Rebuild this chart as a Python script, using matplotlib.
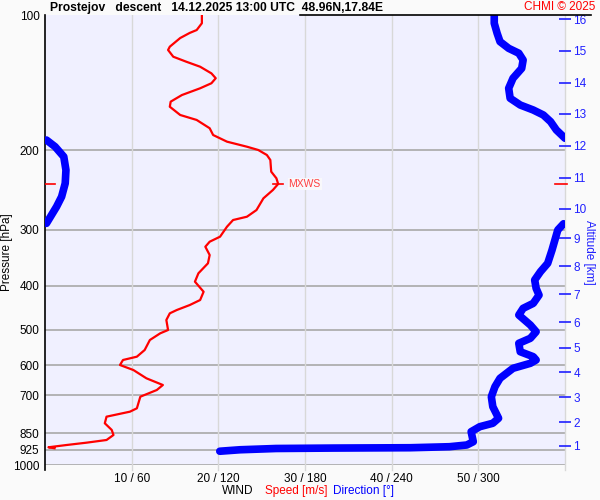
import matplotlib
matplotlib.use('Agg')
from matplotlib import pyplot as plt
import numpy as np

plt.rcParams['font.family'] = ['Liberation Sans', 'DejaVu Sans']

# wind speed profile (pressure hPa, speed m/s)
speed_p = [100, 104.3, 108.0, 109.6, 112.5, 117.6, 119.6, 123.8, 127.0, 130.3, 134.8, 138.2,
           141.8, 145.5, 150.6, 155.8, 159.9, 166.8, 171.1, 178.5, 184.8, 191.2, 196.2,
           199.5, 204.7, 210.0, 222.9, 230.6, 237.4, 244.8, 255.5, 271.3, 280.7, 285.5,
           295.4, 310.9, 319.0, 327.3, 341.5, 356.3, 375.0, 391.4, 412.1, 429.9, 441.1,
           452.5, 460.2, 476.2, 501.2, 509.7, 527.5, 555.2, 574.5, 584.3, 599.5, 615.1,
           641.7, 664.1, 681.3, 705.0, 748.2, 761.2, 780.9, 807.7, 835.8, 857.7, 879.9,
           892.0, 902.7, 913.3, 918.0]
speed = [18.1, 18.1, 17.5, 16.7, 15.6, 14.4, 14.2, 14.8, 16.3, 17.9, 19.2, 19.7,
         19.2, 17.9, 15.8, 14.5, 14.4, 15.6, 17.5, 19.0, 19.4, 21.0, 23.3,
         24.6, 25.6, 26.0, 26.1, 26.7, 26.9, 26.3, 25.2, 24.4, 23.3, 21.7,
         21.0, 20.2, 19.0, 18.5, 19.0, 18.8, 17.7, 17.3, 18.3, 17.9, 16.7,
         15.2, 14.4, 14.0, 14.2, 13.3, 12.1, 11.5, 10.6, 9.0, 8.65, 10.2,
         11.7, 13.6, 12.9, 11.0, 10.6, 9.8, 7.1, 6.9, 7.7, 7.9, 7.1,
         4.8, 2.5, 0.4, 1.1]

# wind direction profile (pressure hPa, degrees)
dir_p = [100, 104.3, 109.8, 114.6, 118.6, 121.6, 125.9, 131.4, 138.2, 145.5, 153.1, 158.5,
         162.6, 166.8, 172.6, 180.1, 187.9,
         189.6, 196.2, 206.5, 221.1, 236.6, 253.4, 266.7, 278.3, 290.4,
         291.0, 300.4, 316.2, 332.9, 356.3, 371.9, 388.0, 404.9, 419.2, 437.3, 448.6,
         464.2, 488.6, 505.6, 522.9, 536.5, 560.1, 574.5, 584.3, 594.3, 609.7, 641.7,
         669.9, 705.0, 742.0, 787.2, 807.7, 822.0, 843.3, 887.7, 902.7, 910.7, 915.4,
         917.0, 919.0, 925.0, 932.0]
direction = [311, 311, 313, 315, 321, 328, 331, 330, 324, 321, 322, 329,
             338, 345, 350, 354, 360,
             1, 7, 13, 14.5, 14, 11.5, 8, 4.5, 1,
             359, 355, 353, 351, 348, 343, 339, 340, 342, 338, 331,
             328, 336, 340, 336, 328, 329, 338, 340, 336, 324, 315,
             311.5, 309, 310, 314, 310, 301, 295, 296.5, 292, 280, 253,
             200, 160, 135, 121]

xtick_speed = [10, 20, 30, 40, 50]
xtick_labels = ["10 / 60", "20 / 120", "30 / 180", "40 / 240", "50 / 300"]
p_ticks = [100, 200, 300, 400, 500, 600, 700, 850, 925, 1000]
alt_km = list(range(1, 17))
alt_p = [907.2, 803.6, 706.3, 622.3, 548.7, 481.2, 417.5, 361.8, 313.5, 269.5,
         229.9, 195.2, 165.7, 141.4, 120.2, 102.1]
mxws_p = 237.4
mxws_speed = 26.9

red = '#ff0000'
blue = '#0000ff'

fig = plt.figure(figsize=(6, 5), dpi=100, facecolor='#fafafa')
ax = fig.add_axes([0.075, 0.07, 0.8667, 0.9])
ax.set_facecolor('#f0f0ff')
ax.set_yscale('log')
ax.set_ylim(1000, 100)
ax.set_xlim(0, 60)

for p in p_ticks[1:]:
    ax.axhline(p, color='#a8a8a8', lw=1.2, zorder=1)
for x in xtick_speed:
    ax.axvline(x, color='#d8d8d8', lw=1, zorder=1)
    ax.plot([x, x], [1000, 1025], color='#d8d8d8', lw=1, clip_on=False)
ax.plot([60, 60], [100, 1025], color='#d8d8d8', lw=1, clip_on=False)

# direction (break the line where it wraps round 360)
d = np.array(direction, dtype=float)
pp = np.array(dir_p, dtype=float)
jumps = np.where(np.abs(np.diff(d)) > 180)[0] + 1
d = np.insert(d, jumps, np.nan)
pp = np.insert(pp, jumps, np.nan)
ax.plot(d / 6.0, pp, color=blue, lw=5.5, solid_capstyle='round', zorder=3)

ax.plot(speed, speed_p, color=red, lw=1.6, zorder=4)

# max wind marker
ax.plot([mxws_speed - 0.6, mxws_speed + 0.6], [mxws_p, mxws_p], color=red, lw=1.2, zorder=5)
ax.text(mxws_speed + 1.2, mxws_p, 'MXWS', color='#ff4040', fontsize=7.5, va='center',
        bbox=dict(facecolor='#f8f8fb', edgecolor='none', pad=0.5), zorder=5)
ax.plot([0, 1.2], [mxws_p, mxws_p], color=red, lw=1.2, zorder=5)
ax.plot([58.8, 60.2], [mxws_p, mxws_p], color=red, lw=1.2, zorder=5, clip_on=False)

ax.set_yticks(p_ticks)
ax.set_yticklabels([str(p) for p in p_ticks])
ax.yaxis.set_minor_locator(matplotlib.ticker.NullLocator())
ax.tick_params(axis='y', length=0, labelsize=8.5, pad=4)
ax.set_xticks(xtick_speed)
ax.set_xticklabels(xtick_labels)
ax.tick_params(axis='x', length=0, labelsize=8.5, pad=6)

for s in ['top', 'right', 'bottom']:
    ax.spines[s].set_visible(False)
ax.spines['left'].set_color('black')
ax.spines['left'].set_linewidth(1.2)
ax.spines['left'].set_bounds(100, 1025)

# altitude axis
ax2 = ax.twinx()
ax2.set_yscale('log')
ax2.set_ylim(1000, 100)
ax2.set_yticks(alt_p)
ax2.set_yticklabels([str(a) for a in alt_km])
ax2.yaxis.set_minor_locator(matplotlib.ticker.NullLocator())
ax2.tick_params(axis='y', direction='inout', length=8, width=1.2, color='#2020ff',
                labelcolor='#2020ff', labelsize=8.5, pad=2)
for s in ax2.spines.values():
    s.set_visible(False)

fig.text(7.5 / 600, 0.496, 'Pressure [hPa]', fontsize=8.5, rotation=90, ha='center', va='center')
fig.text(589 / 600, 0.496, 'Altitude [km]', color='#2020ff', fontsize=8.5, rotation=-90,
         ha='center', va='center')

fig.add_artist(plt.Line2D([0.5, 0.985], [0.97, 0.97], color='black', lw=1.2))
fig.text(0.083, 0.984, 'Prostejov   descent   14.12.2025 13:00 UTC  48.96N,17.84E',
         fontsize=8.7, fontweight='bold', va='center')
fig.text(0.993, 0.986, 'CHMI \u00a9 2025', color=red, fontsize=8.5, ha='right', va='center')

fig.text(0.422, 0.018, 'WIND', color='black', fontsize=8.5, ha='right', va='center')
fig.text(0.441, 0.018, 'Speed [m/s]', color=red, fontsize=8.5, ha='left', va='center')
fig.text(0.555, 0.018, 'Direction [\u00b0]', color=blue, fontsize=8.5, ha='left', va='center')

plt.savefig('out.png', dpi=100, facecolor=fig.get_facecolor())
plt.close()
